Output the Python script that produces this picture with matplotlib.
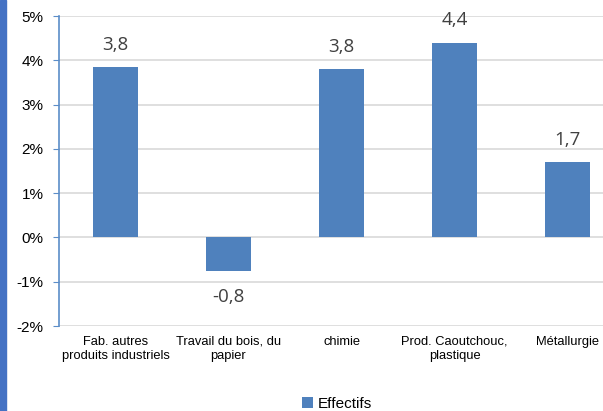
import matplotlib.pyplot as plt
from matplotlib.patches import Rectangle

# data
categories = ["Fab. autres\nproduits industriels", "Travail du bois, du\npapier",
              "chimie", "Prod. Caoutchouc,\nplastique", "Métallurgie"]
values = [3.84, -0.76, 3.8, 4.4, 1.7]
value_labels = ["3,8", "-0,8", "3,8", "4,4", "1,7"]
yticks = [-2, -1, 0, 1, 2, 3, 4, 5]

plt.rcParams['font.family'] = ['Liberation Sans', 'DejaVu Sans']

fig = plt.figure(figsize=(6.03, 4.11), dpi=100, facecolor='white')
W, H = 603.0, 411.0

# blue stripe on the left edge
fig.patches.append(Rectangle((0, 0), 6 / W, 1, transform=fig.transFigure,
                             color='#4472C4', zorder=0))

# axes extends past the right border (chart is cropped)
ax = fig.add_axes([59 / W, (H - 326) / H, 565 / W, 310 / H])
x = list(range(len(categories)))
bars = ax.bar(x, values, width=0.4, color='#4F81BD', zorder=3, label='Effectifs')
ax.set_xlim(-0.5, len(categories) - 0.5)
ax.set_ylim(-2, 5)

ax.set_yticks(yticks)
ax.set_yticklabels([f"{t}%" for t in yticks], fontsize=11, color='#000000')
ax.set_xticks(x)
ax.set_xticklabels(categories, fontsize=9.3, color='#000000', linespacing=1.3)
ax.tick_params(axis='x', length=0, pad=7)
ax.tick_params(axis='y', length=4, color='#5B8DC8', direction='out', pad=7)

ax.grid(axis='y', color='#D9D9D9', linewidth=1.2, zorder=0)
for s in ['top', 'right', 'bottom']:
    ax.spines[s].set_visible(False)
ax.spines['left'].set_color('#5B8DC8')
ax.spines['left'].set_linewidth(1.2)

for b, v, lab in zip(bars, values, value_labels):
    cx = b.get_x() + b.get_width() / 2
    off = 16 if v >= 0 else -19
    ax.annotate(lab, (cx, v), xytext=(0, off), textcoords='offset points',
                ha='center', va='center', fontsize=13.5, color='#404040',
                family=['Open Sans', 'DejaVu Sans'])

fig.legend(handles=[bars], labels=['Effectifs'], loc='center',
           bbox_to_anchor=(337 / W, 1 - 404 / H), frameon=False, fontsize=11,
           handlelength=0.7, handleheight=0.7, handletextpad=0.3)

fig.savefig('out.png', dpi=100)
